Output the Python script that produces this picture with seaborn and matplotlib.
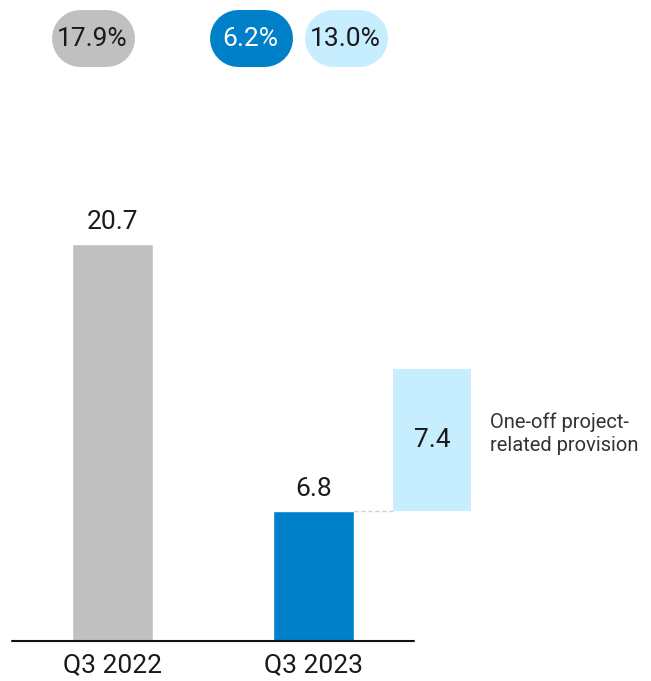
import matplotlib
matplotlib.use("Agg")
import matplotlib.pyplot as plt
import seaborn as sns
import pandas as pd

# ---- data ----
categories = ["Q3 2022", "Q3 2023"]
values = [20.7, 6.8]
provision_value = 7.4
provision_label = "One-off project-\nrelated provision"
pill_texts = ["17.9%", "6.2%", "13.0%"]

GRAY = "#c0c0c0"
BLUE = "#0080c8"
LIGHT = "#c6eeff"
TXT = "#1a1a1a"

sns.set_theme(style="white")
plt.rcParams["font.family"] = ["Roboto", "DejaVu Sans"]
FW = "normal"

W, H = 651, 681
fig = plt.figure(figsize=(W / 100, H / 100), dpi=100)

ax_left, ax_right = 12, 651
ax_bottom_px, ax_top_px = 641, 0
ax = fig.add_axes([ax_left / W, (H - ax_bottom_px) / H,
                   (ax_right - ax_left) / W, (ax_bottom_px - ax_top_px) / H])

df = pd.DataFrame({"cat": categories, "val": values})
sns.barplot(data=df, x="cat", y="val", hue="cat", palette=[GRAY, BLUE],
            width=0.4, legend=False, ax=ax, saturation=1)

px_per_unit_x = 201.0
ax.set_xlim(-0.5, -0.5 + (ax_right - ax_left) / px_per_unit_x)
ax.set_ylim(0, (ax_bottom_px - ax_top_px) / 19.18)

# floating provision bar
xprov = 1.59
ax.bar([xprov], [provision_value], bottom=[values[1]], width=0.385,
       color=LIGHT, linewidth=0)
ax.text(xprov, values[1] + provision_value / 2, f"{provision_value:.1f}",
        ha="center", va="center", fontsize=19, color=TXT, fontweight=FW)
ax.plot([1.2, xprov - 0.1925], [values[1], values[1]], color="#d0d0d0",
        lw=1, ls=(0, (3, 2)))

ax.text(1.878, values[1] + provision_value / 2 + 0.3, provision_label,
        ha="left", va="center", fontsize=14.5, color="#333333",
        linespacing=1.3, fontweight=FW)

for i, v in enumerate(values):
    ax.annotate(f"{v:.1f}", (i, v), xytext=(0, 7), textcoords="offset points",
                ha="center", va="bottom", fontsize=19, color=TXT, fontweight=FW)

ax.plot([-0.5, 1.5], [0, 0], color="#111111", lw=1.5, clip_on=False)

sns.despine(ax=ax, left=True, bottom=True, top=True, right=True)
ax.set_yticks([])
ax.set_xticks([0, 1])
ax.set_xticklabels(categories, fontsize=19, color=TXT, fontweight=FW)
ax.tick_params(axis="x", length=0, pad=9)
ax.set_xlabel("")
ax.set_ylabel("")
ax.patch.set_alpha(0)

# pills in pixel coordinates
ov = fig.add_axes([0, 0, 1, 1])
ov.set_xlim(0, W)
ov.set_ylim(H, 0)
ov.axis("off")
ov.patch.set_alpha(0)
pill_x = [51, 209, 304]
pill_w, pill_top, pill_h = 83, 9, 57
pill_fc = [GRAY, BLUE, LIGHT]
pill_tc = [TXT, "white", TXT]
r = pill_h / 2
for x0, t, fc, tc in zip(pill_x, pill_texts, pill_fc, pill_tc):
    yc = pill_top + r
    ov.plot([x0 + r, x0 + pill_w - r], [yc, yc], color=fc,
            lw=pill_h * 0.72, solid_capstyle="round")
    ov.text(x0 + pill_w / 2, yc + 1, t, ha="center", va="center",
            fontsize=19, color=tc, fontweight=FW)

fig.savefig("out.png", dpi=100)
